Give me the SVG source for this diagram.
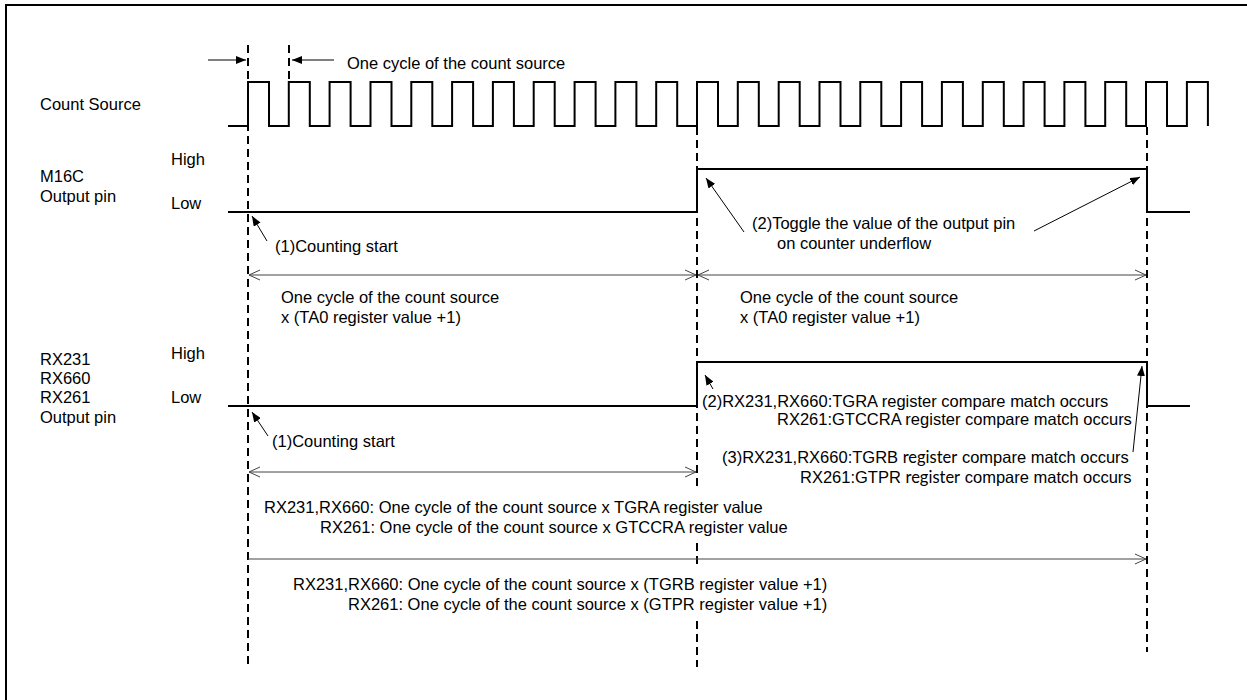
<svg xmlns="http://www.w3.org/2000/svg" width="1247" height="700" viewBox="0 0 1247 700">
<style>
text{font-family:"Liberation Sans",Arial,sans-serif;font-size:16.5px;fill:#000}
.cal{font-family:Lato,"Liberation Sans",sans-serif}
.wave{fill:none;stroke:#000;stroke-width:2}
.dash{fill:none;stroke:#000;stroke-width:2;stroke-dasharray:8,5}
.dim{fill:none;stroke:#444;stroke-width:1}
.ann{fill:none;stroke:#000;stroke-width:1}
.bg{fill:#fff;stroke:none}
</style>
<defs>
<marker id="fa" viewBox="0 0 10 8" refX="10" refY="4" markerWidth="10" markerHeight="8" markerUnits="userSpaceOnUse" orient="auto"><path d="M0,0 L10,4 L0,8 Z" fill="#000"/></marker>
<marker id="oa" viewBox="0 0 12 12" refX="11" refY="6" markerWidth="12" markerHeight="12" markerUnits="userSpaceOnUse" orient="auto-start-reverse"><path d="M0,1 L11,6 L0,11" fill="none" stroke="#444" stroke-width="1"/></marker>
</defs>
<rect width="1247" height="700" fill="#fff"/>
<g id="frame"><path d="M6,700 V5 H1247" fill="none" stroke="#000" stroke-width="2"/></g>

<g id="connectors">
<path class="dash" d="M248,45 V667"/>
<path class="dash" d="M289,45 V82"/>
<path class="dash" d="M697,127 V667"/>
<path class="dash" d="M1147,127 V652"/>
<path class="ann" d="M208,60 H246" marker-end="url(#fa)"/>
<path class="ann" d="M334,60 H292" marker-end="url(#fa)"/>
<path class="ann" d="M267,241 L252,216" marker-end="url(#fa)"/>
<path class="ann" d="M744,232 L706,178" marker-end="url(#fa)"/>
<path class="ann" d="M1034,231 L1140,177" marker-end="url(#fa)"/>
<path class="ann" d="M268,436 L252,412" marker-end="url(#fa)"/>
<path class="ann" d="M713,389 L705,375" marker-end="url(#fa)"/>
<path class="ann" d="M1133,452 L1142,366" marker-end="url(#fa)"/>
<path class="dim" d="M249,275 H696" marker-start="url(#oa)" marker-end="url(#oa)"/>
<path class="dim" d="M698,275 H1146" marker-start="url(#oa)" marker-end="url(#oa)"/>
<path class="dim" d="M249,472 H696" marker-start="url(#oa)" marker-end="url(#oa)"/>
<path class="dim" d="M248,559 H1146" marker-end="url(#oa)"/>
</g>

<g id="count-source">
<text x="40" y="110">Count Source</text>
<path class="wave" d="M228,126 H248 V82 H269 V126 H288.8 V82 H309.8 V126 H329.6 V82 H350.6 V126 H370.5 V82 H391.5 V126 H411.3 V82 H432.3 V126 H452.1 V82 H473.1 V126 H492.9 V82 H513.9 V126 H533.7 V82 H554.7 V126 H574.6 V82 H595.6 V126 H615.4 V82 H636.4 V126 H656.2 V82 H677.2 V126 H697 V82 H718 V126 H737.8 V82 H758.8 V126 H778.7 V82 H799.7 V126 H819.5 V82 H840.5 V126 H860.3 V82 H881.3 V126 H901.1 V82 H922.1 V126 H941.9 V82 H962.9 V126 H982.8 V82 H1003.8 V126 H1023.6 V82 H1044.6 V126 H1064.4 V82 H1085.4 V126 H1105.2 V82 H1126.2 V126 H1146 V82 H1167 V126 H1186.9 V82 H1207.9 V126"/>
<text x="347" y="69">One cycle of the count source</text>
</g>

<g id="m16c">
<text x="40" y="182">M16C</text>
<text x="40" y="202">Output pin</text>
<text x="171" y="165">High</text>
<text x="171" y="209">Low</text>
<path class="wave" d="M228,212 H697 V169 H1147 V212 H1190"/>
<text x="275" y="252">(1)Counting start</text>
<text x="752" y="229">(2)Toggle the value of the output pin</text>
<text x="777" y="249">on counter underflow</text>
<text x="281" y="303">One cycle of the count source</text>
<text x="281" y="323">x (TA0 register value +1)</text>
<text x="740" y="303">One cycle of the count source</text>
<text x="740" y="323">x (TA0 register value +1)</text>
</g>

<g id="rx">
<text x="40" y="365">RX231</text>
<text x="40" y="384">RX660</text>
<text x="40" y="403">RX261</text>
<text x="40" y="423">Output pin</text>
<text x="171" y="359">High</text>
<text x="171" y="403">Low</text>
<path class="wave" d="M228,406 H697 V362 H1147 V406 H1190"/>
<text x="272" y="447">(1)Counting start</text>
<text x="702" y="407">(2)RX231,RX660:TGRA  register compare match occurs</text>
<text x="777" y="425">RX261:GTCCRA register compare match occurs</text>
<text x="722" y="463">(3)RX231,RX660:TGRB  <tspan class="cal">register</tspan> compare match occurs</text>
<text x="800" y="483">RX261:GTPR  <tspan class="cal">register</tspan> compare match occurs</text>
</g>

<g id="rx-periods">
<rect class="bg" x="258" y="489" width="540" height="52"/>
<rect class="bg" x="287" y="567" width="550" height="50"/>
<text x="264" y="513">RX231,RX660:  One cycle of the count source x TGRA register value</text>
<text x="320" y="533">RX261:  One cycle of the count source x GTCCRA register value</text>
<text x="293" y="590">RX231,RX660:  One cycle of the count source x (TGRB register value +1)</text>
<text x="348" y="610">RX261:  One cycle of the count source x (GTPR register value +1)</text>
</g>
</svg>
